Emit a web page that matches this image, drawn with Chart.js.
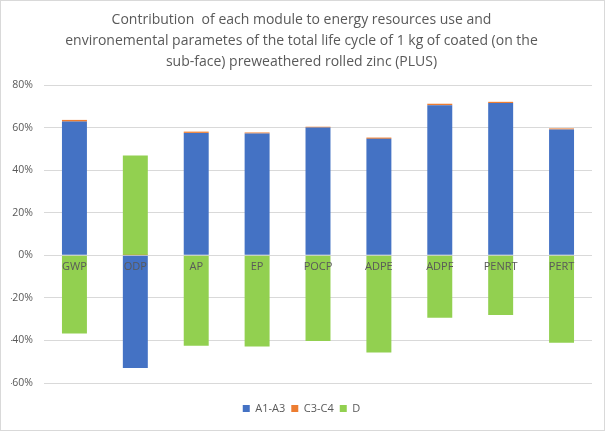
<!DOCTYPE html>
<html>
<head>
<meta charset="utf-8">
<script src="https://cdn.jsdelivr.net/npm/chart.js@4/dist/chart.umd.min.js"></script>
<style>
  html, body { margin: 0; padding: 0; background: #fff; }
  #wrap { width: 605px; height: 431px; box-sizing: border-box; border: 1px solid #D9D9D9; }
</style>
</head>
<body>
<div id="wrap"><canvas id="chart" width="603" height="429"></canvas></div>
<script>
var categories = ['GWP', 'ODP', 'AP', 'EP', 'POCP', 'ADPE', 'ADPF', 'PENRT', 'PERT'];
var a1a3 = [62.8, -53.0, 57.5, 57.2, 60.0, 54.7, 70.5, 71.5, 59.1];
var c3c4 = [0.8, 0.1, 0.6, 0.5, 0.4, 0.6, 0.7, 0.6, 0.5];
var modD = [-36.7, 46.8, -42.5, -42.9, -40.3, -45.7, -29.4, -28.0, -41.1];
var yTicks = [80, 60, 40, 20, 0, -20, -40, -60];

var titleLines = [
  'Contribution  of each module to energy resources use and',
  'environemental parametes of the total life cycle of 1 kg of coated (on the',
  'sub-face) preweathered rolled zinc (PLUS)'
];

function noSidePadding(axis) {
  axis.paddingLeft = 0;
  axis.paddingRight = 0;
}

window.onload = function () {
  var font = "'Open Sans', sans-serif";
  var grey = '#595959';

  var config = {
    type: 'bar',
    data: {
      labels: categories,
      datasets: [
        { label: 'A1-A3', data: a1a3, backgroundColor: '#4472C4' },
        { label: 'C3-C4', data: c3c4, backgroundColor: '#ED7D31' },
        { label: 'D', data: modD, backgroundColor: '#92D050' }
      ]
    },
    options: {
      responsive: false,
      animation: false,
      datasets: { bar: { categoryPercentage: 1, barPercentage: 0.41 } },
      layout: { padding: { left: 10, right: 12, top: 0, bottom: 6 } },
      plugins: {
        title: {
          display: true,
          text: titleLines,
          color: grey,
          font: { family: font, size: 14, weight: 'normal', lineHeight: 1.5 },
          padding: { top: 9, bottom: 12 }
        },
        legend: {
          position: 'bottom',
          labels: {
            color: grey,
            font: { family: font, size: 11 },
            boxWidth: 7,
            boxHeight: 7,
            padding: 6
          }
        },
        tooltip: { enabled: false }
      },
      scales: {
        x: {
          stacked: true,
          position: { y: 0 },
          grid: { display: false, drawTicks: false },
          border: { display: false },
          ticks: {
            z: 1,
            color: grey,
            font: { family: font, size: 11 },
            padding: 5,
            autoSkip: false,
            maxRotation: 0
          },
          afterFit: noSidePadding
        },
        // empty strip between the plot and the legend
        gap: {
          type: 'category',
          position: 'bottom',
          grid: { display: false, drawTicks: false },
          border: { display: false },
          ticks: { display: false },
          afterFit: function (axis) {
            axis.height = 14;
            noSidePadding(axis);
          }
        },
        y: {
          stacked: true,
          min: -60,
          max: 80,
          afterBuildTicks: function (axis) {
            axis.ticks = yTicks.map(function (v) { return { value: v }; });
          },
          afterFit: function (axis) { axis.width = 33; },
          grid: { color: '#D9D9D9', drawTicks: false },
          border: { display: false },
          ticks: {
            color: grey,
            font: { family: font, size: 10.5 },
            padding: 11,
            callback: function (v) { return v + '%'; }
          }
        }
      }
    }
  };

  var ctx = document.getElementById('chart').getContext('2d');
  window.myBar = new Chart(ctx, config);
};
</script>
</body>
</html>
